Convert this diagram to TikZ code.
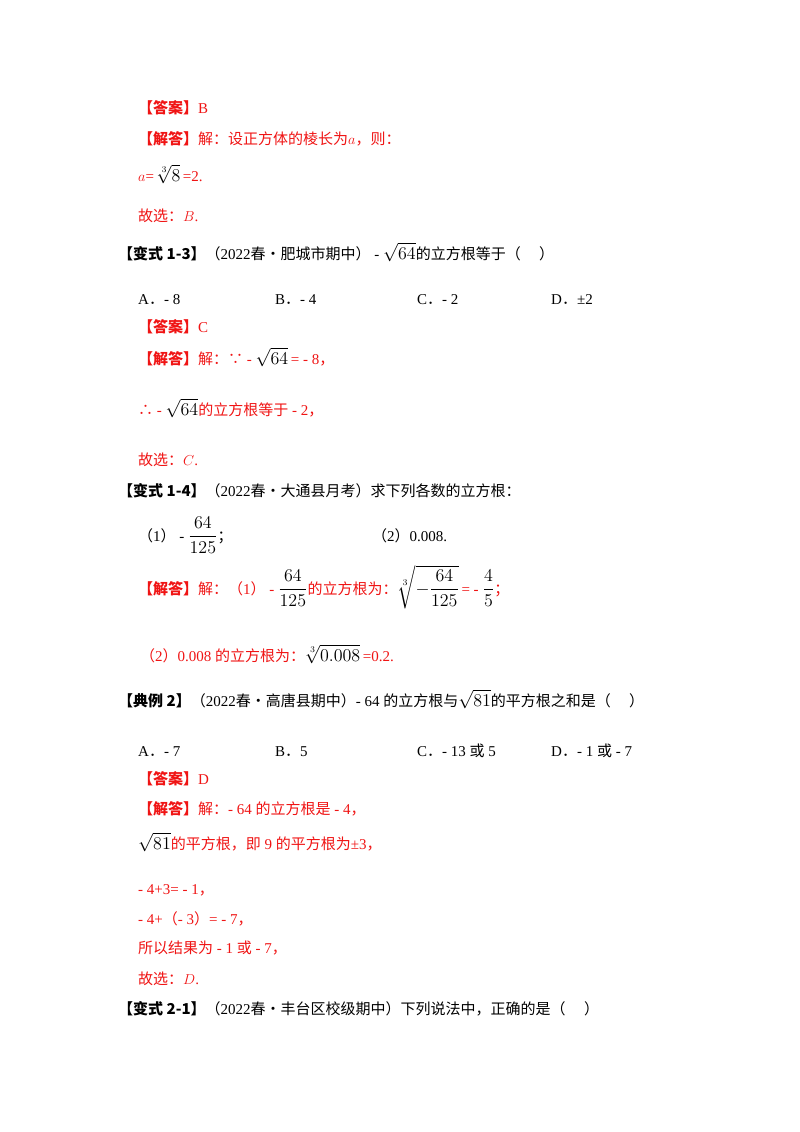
\documentclass[tikz,border=0pt]{standalone}
\usepackage{amsmath}
\usepackage{graphicx}
\usepackage{fontspec}
\setmainfont{Liberation Serif}
\newfontfamily\cjk{Noto Sans CJK SC}
\newcommand{\zh}[1]{{\cjk #1}}
\newcommand{\bz}[1]{{\cjk\bfseries #1}}
\newcommand{\pd}{\zh{．}}
\newcommand{\mb}[1]{{\color{black}\scalebox{1.25}{$#1$}}}
\definecolor{ansred}{RGB}{240,20,20}
\begin{document}
\begin{tikzpicture}[x=1pt,y=-1pt,
  every node/.style={anchor=base west,inner sep=0pt,font=\fontsize{15}{18}\selectfont},
  red/.style={text=ansred},
  blk/.style={text=black}]
\useasboundingbox[fill=white] (0,0) rectangle (800,1132);
\node[red] (l1) at (138,113) {\bz{【答案】}B};
\node[red] (l2) at (138,144) {\bz{【解答】}\zh{解：设正方体的棱长为}$a$\zh{，则：}};
\node[red] (l3) at (138,181) {$a$=\,\mb{\sqrt[3]{8}}\,=2.};
\node[red] (l4) at (138,221) {\zh{故选：}$B$.};
\node[blk] (l5) at (118,259) {\bz{【变式 1-3】}\zh{（}2022\zh{春•肥城市期中）} - \mb{\sqrt{64}}\zh{的立方根等于（\quad\ ）}};
\node[blk] (a1) at (138,304) {A\pd - 8};
\node[blk] (a2) at (275,304) {B\pd - 4};
\node[blk] (a3) at (417,304) {C\pd - 2};
\node[blk] (a4) at (551,304) {D\pd ±2};
\node[red] (l6) at (138,332) {\bz{【答案】}C};
\node[red] (l7) at (138,364) {\bz{【解答】}\zh{解：∵} - \mb{\sqrt{64}}\,= - 8\zh{，}};
\node[red] (l8) at (138,415) {\zh{∴} - \mb{\sqrt{64}}\zh{的立方根等于} - 2\zh{，}};
\node[red] (l9) at (138,465) {\zh{故选：}$C$.};
\node[blk] (l10) at (118,496) {\bz{【变式 1-4】}\zh{（}2022\zh{春•大通县月考）求下列各数的立方根：}};
\node[blk] (l11) at (138,541) {\zh{（}1\zh{）} - \mb{\dfrac{64}{125}}\zh{；}};
\node[blk] (l12) at (372,541) {\zh{（}2\zh{）}0.008.};
\node[red] (l13) at (138,594) {\bz{【解答】}\zh{解：（}1\zh{）} - \mb{\dfrac{64}{125}}\zh{的立方根为：}\mb{\sqrt[3]{-\dfrac{64}{125}}}\,= - \mb{\dfrac{4}{5}}\zh{；}};
\node[red] (l14) at (140,661) {\zh{（}2\zh{）}0.008 \zh{的立方根为：}\mb{\sqrt[3]{0.008}}\,=0.2.};
\node[blk] (l15) at (118,706) {\bz{【典例 2】}\zh{（}2022\zh{春•高唐县期中）}- 64 \zh{的立方根与}\mb{\sqrt{81}}\zh{的平方根之和是（\quad\ ）}};
\node[blk] (b1) at (138,756) {A\pd - 7};
\node[blk] (b2) at (275,756) {B\pd 5};
\node[blk] (b3) at (417,756) {C\pd - 13 \zh{或} 5};
\node[blk] (b4) at (551,756) {D\pd - 1 \zh{或} - 7};
\node[red] (l16) at (138,784) {\bz{【答案】}D};
\node[red] (l17) at (138,814) {\bz{【解答】}\zh{解：}- 64 \zh{的立方根是} - 4\zh{，}};
\node[red] (l18) at (138,849) {\mb{\sqrt{81}}\zh{的平方根，即} 9 \zh{的平方根为}±3\zh{，}};
\node[red] (l19) at (138,894) {- 4+3= - 1\zh{，}};
\node[red] (l20) at (138,924) {- 4+\zh{（}- 3\zh{）}= - 7\zh{，}};
\node[red] (l21) at (138,953) {\zh{所以结果为} - 1 \zh{或} - 7\zh{，}};
\node[red] (l22) at (138,984) {\zh{故选：}$D$.};
\node[blk] (l23) at (118,1014) {\bz{【变式 2-1】}\zh{（}2022\zh{春•丰台区校级期中）下列说法中，正确的是（\quad\ ）}};
\end{tikzpicture}
\end{document}
